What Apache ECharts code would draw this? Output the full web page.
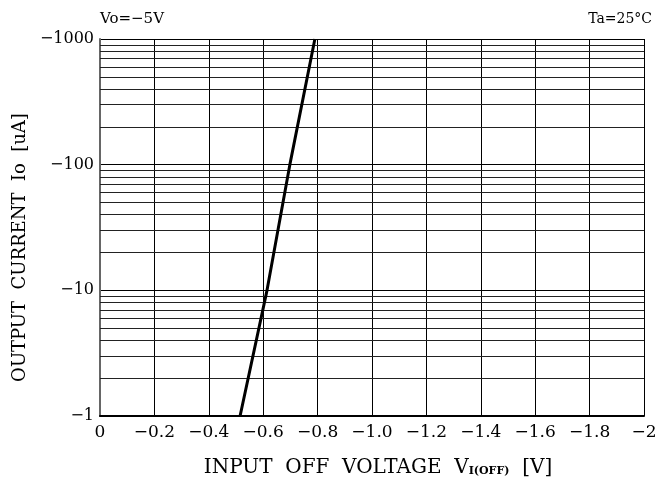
<!DOCTYPE html>
<html>
<head>
<meta charset="utf-8">
<script src="https://cdn.jsdelivr.net/npm/echarts@6/dist/echarts.min.js"></script>
<style>
html,body{margin:0;padding:0;background:#fff;}
#c{width:655px;height:481px;}
</style>
</head>
<body>
<div id="c"></div>
<script>
// Data
var voltage = [-0.515, -0.614, -0.698, -0.79];      // V_I(OFF) [V]
var current = [-1, -10, -100, -1000];               // Io [uA]
var xTickLabels = ['0','−0.2','−0.4','−0.6','−0.8','−1.0','−1.2','−1.4','−1.6','−1.8','−2'];
var yTickLabels = {1:'−1', 10:'−10', 100:'−100', 1000:'−1000'};
var minorGrid = [2,3,4,5,6,7,8,9,20,30,40,50,60,70,80,90,200,300,400,500,600,700,800,900];

var FONT = 'DejaVu Serif';
var chart = echarts.init(document.getElementById('c'), null, {renderer:'canvas'});
var pts = voltage.map(function(v,i){ return [v, Math.abs(current[i])]; });

chart.setOption({
  animation:false,
  backgroundColor:'#fff',
  grid:{left:100, right:11, top:39, bottom:65, containLabel:false, outerBoundsMode:'none'},
  graphic:[
    {type:'text', left:100, top:12, style:{text:'Vo=−5V', font:'15px "DejaVu Serif"', fill:'#000'}},
    {type:'text', right:3, top:12, style:{text:'Ta=25°C', font:'14px "DejaVu Serif"', fill:'#000'}}
  ],
  xAxis:{
    type:'value', min:-2, max:0, interval:0.2, inverse:true,
    axisLine:{show:true, onZero:false, lineStyle:{color:'#000', width:2}},
    axisTick:{show:false},
    axisLabel:{
      fontFamily:FONT, fontSize:17, color:'#000', margin:8,
      formatter:function(v){ var i = Math.round(-v/0.2); return xTickLabels[i]; }
    },
    splitLine:{show:true, lineStyle:{color:'#000', width:1}},
    name:'{a|INPUT  OFF  VOLTAGE  V}{b|I(OFF)}{a|  [V]}',
    nameLocation:'middle', nameGap:42,
    nameTextStyle:{
      padding:[0,0,0,12],
      rich:{
        a:{fontFamily:FONT, fontSize:20, color:'#000'},
        b:{fontFamily:FONT, fontSize:11, fontWeight:'bold', color:'#000', padding:[7,0,0,0]}
      }
    }
  },
  yAxis:{
    type:'log', logBase:10, min:1, max:1000,
    axisLine:{show:true, lineStyle:{color:'#666', width:2}},
    axisTick:{show:false},
    axisLabel:{
      fontFamily:FONT, fontSize:16, color:'#000', margin:6,
      formatter:function(v){ return yTickLabels[Math.round(v)] || ''; }
    },
    splitLine:{show:true, lineStyle:{color:'#000', width:1}},
    name:'OUTPUT  CURRENT  Io  [uA]',
    nameLocation:'middle', nameGap:68,
    nameTextStyle:{fontFamily:FONT, fontSize:18, color:'#000', padding:[0,40,0,0]}
  },
  series:[{
    type:'line', data:pts, showSymbol:false, symbol:'none',
    lineStyle:{color:'#000', width:3},
    markLine:{
      silent:true, symbol:'none', animation:false,
      label:{show:false},
      lineStyle:{color:'#222', width:1, type:'solid'},
      data:minorGrid.map(function(v){ return {yAxis:v}; })
    },
    z:5
  }]
});
</script>
</body>
</html>
